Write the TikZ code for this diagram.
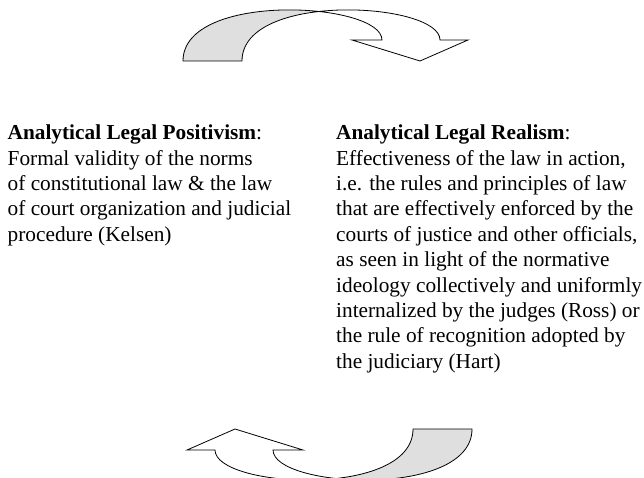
\documentclass[tikz,border=0pt]{standalone}
\usepackage{fontspec}
\setmainfont{Liberation Serif}
\usetikzlibrary{intersections}
\begin{document}
\begin{tikzpicture}[x=1pt,y=-1pt,
  band/.style={draw=black,line width=0.8pt,line join=miter},
  backfill/.style={fill=gray!25},
  txt/.style={anchor=north west,inner sep=0pt,align=left,font=\fontsize{21.3}{25.4}\selectfont}]
\useasboundingbox (0,0) rectangle (644,478);
% top curved arrow
\begin{scope}
  \path[name path=A1] (183,61) .. controls (183,-9) and (382,2) .. (382,40);
  \path[name path=B1] (440,40) .. controls (440,2) and (242,-9) .. (242,61);
  \path[name intersections={of=A1 and B1,by=X1}];
  \begin{scope}
    \clip (150,0) rectangle (X1 |- 0,70);
    \fill[backfill] (183,61) .. controls (183,-9) and (382,2) .. (382,40)
      -- (440,40) .. controls (440,2) and (242,-9) .. (242,61) -- cycle;
  \end{scope}
  \draw[band] (183,61) .. controls (183,-9) and (382,2) .. (382,40)
     -- (352,40) -- (420,61) -- (468,40) -- (440,40)
     .. controls (440,2) and (242,-9) .. (242,61) -- cycle;
\end{scope}
% bottom curved arrow
\begin{scope}[rotate around={180:(327.5,245)}]
  \path[name path=A2] (183,61) .. controls (183,-9) and (382,2) .. (382,40);
  \path[name path=B2] (440,40) .. controls (440,2) and (242,-9) .. (242,61);
  \path[name intersections={of=A2 and B2,by=X2}];
  \begin{scope}
    \clip (150,0) rectangle (X2 |- 0,70);
    \fill[backfill] (183,61) .. controls (183,-9) and (382,2) .. (382,40)
      -- (440,40) .. controls (440,2) and (242,-9) .. (242,61) -- cycle;
  \end{scope}
  \draw[band] (183,61) .. controls (183,-9) and (382,2) .. (382,40)
     -- (352,40) -- (420,61) -- (468,40) -- (440,40)
     .. controls (440,2) and (242,-9) .. (242,61) -- cycle;
\end{scope}
% texts
\node[txt] (pos) at (7.5,121.7) {\strut\textbf{Analytical Legal Positivism}:\\
Formal validity of the norms\\
of constitutional law \& the law\\
of court organization and judicial\\
procedure (Kelsen)};
\node[txt] (real) at (336,121.7) {\strut\textbf{Analytical Legal Realism}:\\
Effectiveness of the law in action,\\
i.e. the rules and principles of law\\
that are effectively enforced by the\\
courts of justice and other officials,\\
as seen in light of the normative\\
ideology collectively and uniformly\\
internalized by the judges (Ross) or\\
the rule of recognition adopted by\\
the judiciary (Hart)};
\end{tikzpicture}
\end{document}
